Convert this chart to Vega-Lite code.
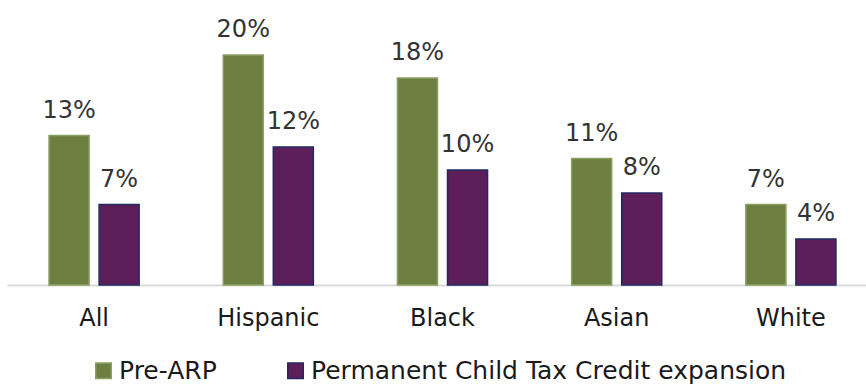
{
  "$schema": "https://vega.github.io/schema/vega-lite/v6.json",
  "autosize": "none",
  "width": 871,
  "height": 276,
  "padding": {"left": 7, "top": 9, "right": 0, "bottom": 102},
  "background": "white",
  "config": {
    "view": {"stroke": null},
    "font": "DejaVu Sans"
  },
  "data": {
    "values": [
      {"group": "All", "series": "Pre-ARP", "value": 0.13},
      {"group": "All", "series": "Permanent Child Tax Credit expansion", "value": 0.07},
      {"group": "Hispanic", "series": "Pre-ARP", "value": 0.20},
      {"group": "Hispanic", "series": "Permanent Child Tax Credit expansion", "value": 0.12},
      {"group": "Black", "series": "Pre-ARP", "value": 0.18},
      {"group": "Black", "series": "Permanent Child Tax Credit expansion", "value": 0.10},
      {"group": "Asian", "series": "Pre-ARP", "value": 0.11},
      {"group": "Asian", "series": "Permanent Child Tax Credit expansion", "value": 0.08},
      {"group": "White", "series": "Pre-ARP", "value": 0.07},
      {"group": "White", "series": "Permanent Child Tax Credit expansion", "value": 0.04}
    ]
  },
  "encoding": {
    "x": {
      "field": "group", "type": "nominal", "sort": null,
      "scale": {"paddingInner": 0, "paddingOuter": 0},
      "axis": {
        "title": null, "labelAngle": 0, "ticks": false,
        "domainColor": "#d9d9d9", "domainWidth": 2,
        "labelFontSize": 24, "labelColor": "#1a1a1a", "labelPadding": 21,
        "labelFont": "DejaVu Sans"
      }
    },
    "xOffset": {
      "field": "series", "type": "nominal",
      "sort": ["Pre-ARP", "Permanent Child Tax Credit expansion"],
      "scale": {"paddingInner": 0.2, "paddingOuter": 0.84}
    },
    "y": {
      "field": "value", "type": "quantitative",
      "scale": {"domain": [0, 0.24]},
      "axis": null
    }
  },
  "layer": [
    {
      "mark": {"type": "bar", "strokeWidth": 1.5},
      "encoding": {
        "color": {
          "field": "series", "type": "nominal",
          "sort": ["Pre-ARP", "Permanent Child Tax Credit expansion"],
          "scale": {"domain": ["Pre-ARP", "Permanent Child Tax Credit expansion"], "range": ["#6b8040", "#5c1f5a"]},
          "legend": {
            "title": null, "orient": "none", "direction": "horizontal",
            "legendX": 84, "legendY": 349,
            "symbolType": "square", "symbolSize": 240,
            "symbolStrokeWidth": 1.5,
            "labelFontSize": 25, "labelColor": "#1a1a1a", "labelFont": "DejaVu Sans",
            "labelLimit": 0,
            "columnPadding": 66, "labelOffset": 3,
            "symbolStrokeColor": "#1f2a5e"
          }
        },
        "stroke": {
          "field": "series", "type": "nominal",
          "scale": {"domain": ["Pre-ARP", "Permanent Child Tax Credit expansion"], "range": ["#8a9e63", "#1f2a5e"]},
          "legend": null
        }
      }
    },
    {
      "mark": {"type": "text", "baseline": "alphabetic", "dy": -18, "fontSize": 24, "color": "#333333", "font": "DejaVu Sans"},
      "encoding": {
        "text": {"field": "value", "type": "quantitative", "format": ".0%"},
        "detail": {"field": "series"}
      }
    }
  ]
}
